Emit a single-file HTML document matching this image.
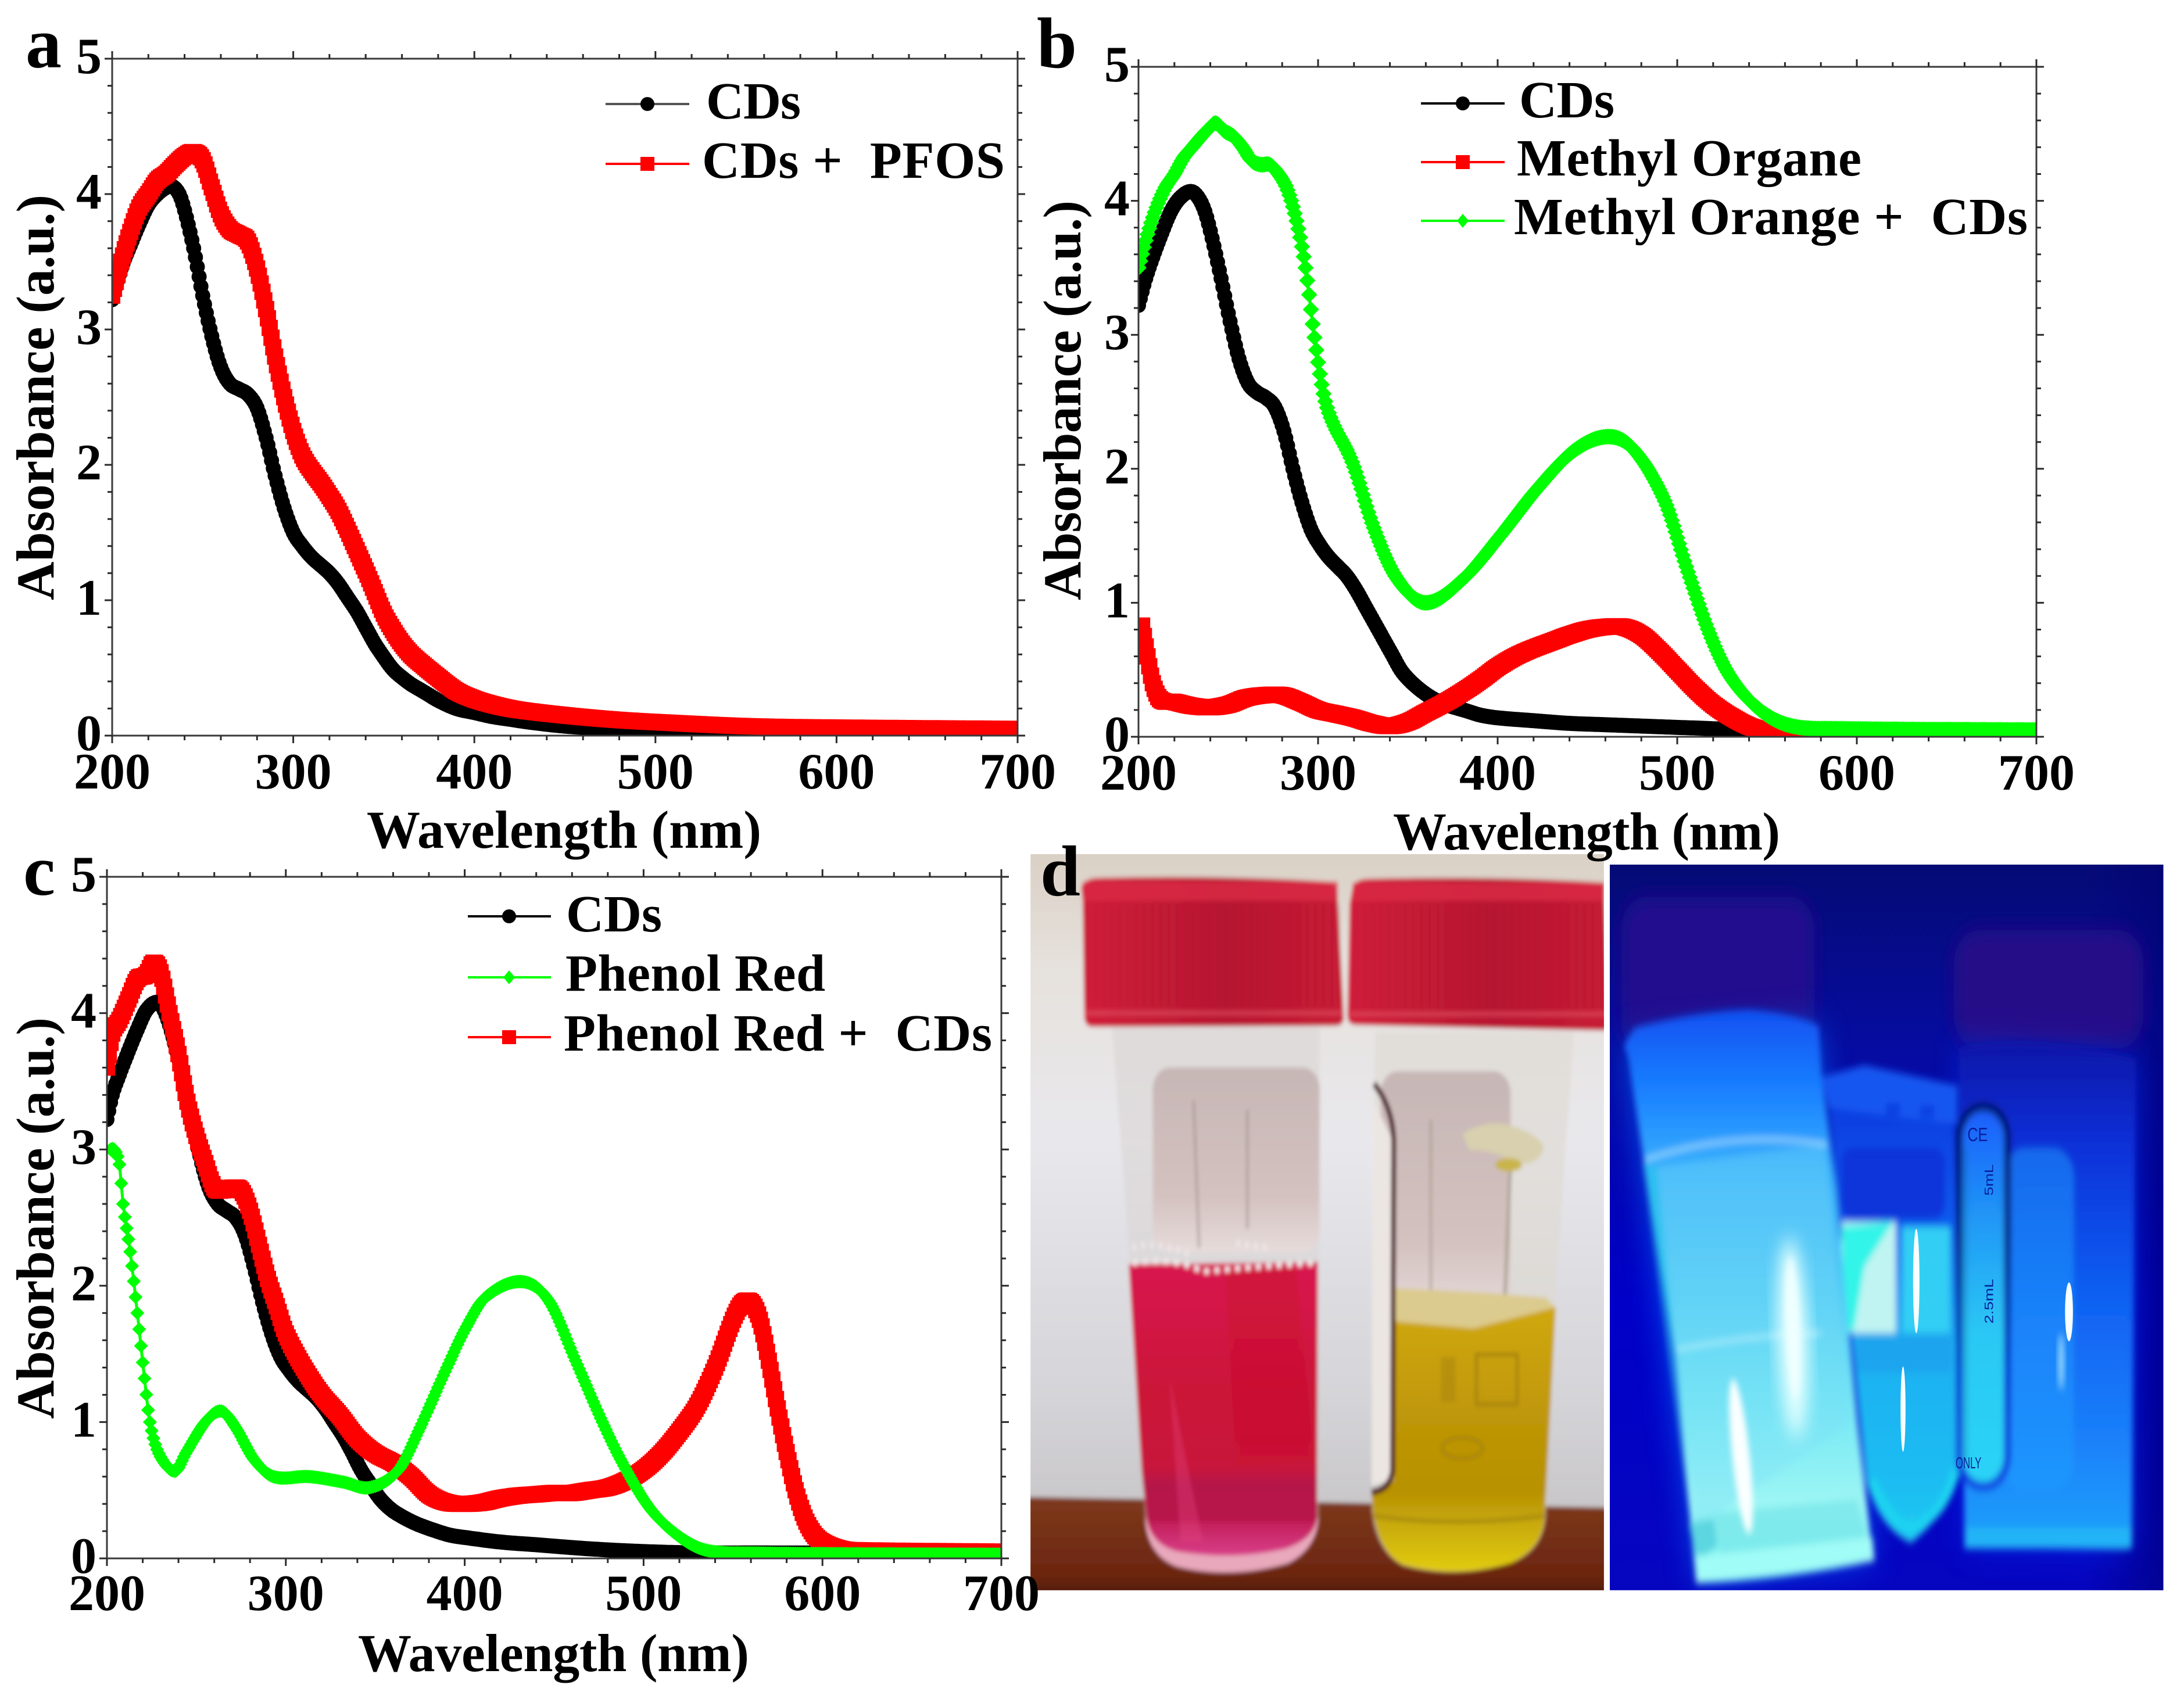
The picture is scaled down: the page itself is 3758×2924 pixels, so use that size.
<!DOCTYPE html>
<html lang="en">
<head>
<meta charset="utf-8">
<title>Absorbance spectra of carbon dots with dyes</title>
<style>
html,body{margin:0;padding:0;background:#fff;width:3758px;height:2924px;overflow:hidden}
svg{display:block}
text{font-family:"Liberation Serif","DejaVu Serif",serif;font-weight:bold;fill:#000;white-space:pre}
.tick{font-size:88px}
.title{font-size:92px}
.leg{font-size:90px}
.letter{font-size:124px}
.ptxt{font-family:"Liberation Sans",sans-serif;font-weight:normal;font-size:34px;fill:#06209a}
</style>
</head>
<body>
<svg id="figure" xmlns="http://www.w3.org/2000/svg" width="3758" height="2924" viewBox="0 0 3758 2924">
<defs>
  <filter id="soft1" x="-5%" y="-5%" width="110%" height="110%"><feGaussianBlur stdDeviation="5"/></filter>
  <filter id="softb" x="-60%" y="-20%" width="220%" height="140%"><feGaussianBlur stdDeviation="8"/></filter>
  <filter id="soft2" x="-30%" y="-30%" width="160%" height="160%"><feGaussianBlur stdDeviation="22"/></filter>
  <filter id="soft3" x="-40%" y="-40%" width="180%" height="180%"><feGaussianBlur stdDeviation="40"/></filter>
  <linearGradient id="wall" x1="0" y1="0" x2="0" y2="1"><stop offset="0" stop-color="#d8cec2"/><stop offset=".18" stop-color="#e6e1dc"/><stop offset=".45" stop-color="#e8e8ec"/><stop offset=".8" stop-color="#d6d6da"/><stop offset="1" stop-color="#c8c6c8"/></linearGradient>
  <linearGradient id="table" x1="0" y1="0" x2="0" y2="1"><stop offset="0" stop-color="#7e3a1c"/><stop offset=".7" stop-color="#6c2610"/><stop offset="1" stop-color="#3f1409"/></linearGradient>
  <linearGradient id="cap" x1="0" y1="0" x2="1" y2="0"><stop offset="0" stop-color="#d21f3c"/><stop offset=".55" stop-color="#b81730"/><stop offset="1" stop-color="#c81b36"/></linearGradient>
  <linearGradient id="pinkliq" x1="0" y1="0" x2="0" y2="1"><stop offset="0" stop-color="#d81650"/><stop offset=".45" stop-color="#cb1238"/><stop offset=".7" stop-color="#c8143c"/><stop offset=".76" stop-color="#b5134a"/><stop offset=".88" stop-color="#b8144c"/><stop offset=".89" stop-color="#c4205c"/><stop offset="1" stop-color="#d8408a"/></linearGradient>
  <linearGradient id="yelliq" x1="0" y1="0" x2="0" y2="1"><stop offset="0" stop-color="#d0a80c"/><stop offset=".5" stop-color="#bc9406"/><stop offset=".7" stop-color="#b89206"/><stop offset=".85" stop-color="#ccb008"/><stop offset="1" stop-color="#e2cc10"/></linearGradient>
  <linearGradient id="lab1" x1="0" y1="0" x2="0" y2="1"><stop offset="0" stop-color="#c6b6b5"/><stop offset=".7" stop-color="#d4c2c0"/><stop offset="1" stop-color="#e6dcdb"/></linearGradient>
  <linearGradient id="uvbg" x1="0" y1="0" x2="0" y2="1"><stop offset="0" stop-color="#050b74"/><stop offset=".25" stop-color="#060ca0"/><stop offset=".6" stop-color="#0000c8"/><stop offset="1" stop-color="#0606c0"/></linearGradient>
  <linearGradient id="uvside" x1="0" y1="0" x2="1" y2="0"><stop offset=".85" stop-color="#000080" stop-opacity="0"/><stop offset="1" stop-color="#000070" stop-opacity=".55"/></linearGradient>
  <linearGradient id="uvbig" x1="0" y1="0" x2="0" y2="1"><stop offset="0" stop-color="#1050f2"/><stop offset=".14" stop-color="#1a80ff"/><stop offset=".28" stop-color="#38b0fc"/><stop offset=".5" stop-color="#52ccf6"/><stop offset=".68" stop-color="#72e6f4"/><stop offset=".86" stop-color="#9cf6f4"/><stop offset="1" stop-color="#7cf8f4"/></linearGradient>
  <linearGradient id="uvmid" x1="0" y1="0" x2="0" y2="1"><stop offset="0" stop-color="#0c3ce0"/><stop offset=".25" stop-color="#0f58ee"/><stop offset=".55" stop-color="#1eb0f2"/><stop offset=".85" stop-color="#1cbcf2"/><stop offset="1" stop-color="#22c8f0"/></linearGradient>
  <linearGradient id="uvright" x1="0" y1="0" x2="0" y2="1"><stop offset="0" stop-color="#0a16a8"/><stop offset=".2" stop-color="#0a30d8"/><stop offset=".5" stop-color="#1060f2"/><stop offset=".78" stop-color="#1a80fa"/><stop offset=".96" stop-color="#1e9cfa"/><stop offset="1" stop-color="#20a8f6"/></linearGradient>
  <linearGradient id="uvlabel" x1="0" y1="0" x2="0" y2="1"><stop offset="0" stop-color="#1c5cfc"/><stop offset=".3" stop-color="#2098f6"/><stop offset=".6" stop-color="#2cc8f4"/><stop offset="1" stop-color="#2cd4f6"/></linearGradient>
  <linearGradient id="uvlabelstroke" x1="0" y1="0" x2="0" y2="1"><stop offset="0" stop-color="#060a60"/><stop offset=".35" stop-color="#06107c"/><stop offset=".7" stop-color="#0626d0"/><stop offset="1" stop-color="#0832e0"/></linearGradient>
  <pattern id="ridges" width="22" height="40" patternUnits="userSpaceOnUse"><rect width="8" height="40" fill="#8e0f22" opacity=".16"/></pattern>
  <clipPath id="clip-left-photo"><rect x="5" y="0" width="1547" height="1552"/></clipPath>
  <clipPath id="clip-right-photo"><rect x="8" y="22" width="1548" height="1530"/></clipPath>
</defs>

<rect x="0" y="0" width="3758" height="2924" fill="#ffffff"/>

<!-- LEFT PHOTO -->
<g transform="translate(1770,1470) scale(.6378,.8163)" clip-path="url(#clip-left-photo)">
  <g filter="url(#soft1)">
    <rect x="-30" y="-30" width="1620" height="1420" fill="url(#wall)"/>
    <polygon points="-30,1355 1590,1378 1590,1590 -30,1590" fill="url(#table)"/>

    <!-- pink vial -->
    <g>
      <path d="M225 365 L785 365 L782 1400 Q775 1465 700 1495 Q545 1530 400 1502 Q325 1480 315 1410 L272 860 Z" fill="#d8d4d4" opacity=".55"/>
      <rect x="335" y="450" width="450" height="390" rx="46" fill="url(#lab1)"/>
      <line x1="445" y1="520" x2="460" y2="830" stroke="#a59190" stroke-width="5"/>
      <line x1="590" y1="540" x2="590" y2="790" stroke="#a59190" stroke-width="5"/>
      <path d="M315 1400 L782 1400 Q775 1465 700 1495 Q545 1530 400 1502 Q325 1480 315 1410 Z" fill="#e9a8bc"/>
      <path d="M270 865 L780 860 L778 1300 L778 1400 Q770 1445 690 1465 Q550 1490 400 1470 Q330 1455 318 1400 L305 1300 Z" fill="url(#pinkliq)"/>
      <polygon points="530,880 720,870 770,1280 560,1290" fill="#c90f2c" opacity=".45"/>
      <polygon points="380,1100 420,1260 470,1450 410,1450" fill="#e54a82" opacity=".35"/>
      <path d="M280 862 Q400 850 470 880 Q600 870 770 862" fill="none" stroke="#f3e8ea" stroke-width="12" stroke-dasharray="14 14"/>
      <path d="M280 830 Q340 812 440 845 M560 820 L650 830" fill="none" stroke="#efe6e6" stroke-width="14" stroke-dasharray="10 14"/>
    </g>

    <!-- yellow vial -->
    <g>
      <path d="M935 375 L1470 375 L1420 950 L1395 1400 Q1385 1470 1300 1495 Q1150 1530 1010 1500 Q935 1470 925 1380 L930 800 Z" fill="#ded8d0" opacity=".6"/>
      <rect x="950" y="458" width="350" height="520" rx="46" fill="url(#lab1)"/>
      <line x1="1085" y1="560" x2="1085" y2="920" stroke="#a8988a" stroke-width="5"/>
      <line x1="1300" y1="650" x2="1285" y2="930" stroke="#a8a090" stroke-width="8"/>
      <polygon points="930,520 980,600 980,1320 925,1330" fill="#ece6e2"/>
      <polygon points="985,915 1230,925 1395,935 1420,955 1200,1000 985,985" fill="#dccb8e"/>
      <path d="M985 985 L1200 1000 L1422 955 L1395 1350 L1392 1400 Q1385 1465 1300 1495 Q1150 1528 1010 1498 Q935 1470 925 1350 L985 1320 Z" fill="url(#yelliq)"/>
      <path d="M932 484 Q988 540 985 620 L982 1300 Q975 1340 925 1345" fill="none" stroke="#4b1620" stroke-width="13"/>
      <path d="M928 1395 Q1150 1420 1392 1395" fill="none" stroke="#a88a08" stroke-width="8"/>
      <path d="M1170 590 Q1230 560 1290 570 Q1380 590 1390 620 Q1370 660 1320 650 Q1240 620 1190 625 Z" fill="#d8d0ae"/>
      <ellipse cx="1295" cy="655" rx="36" ry="14" fill="#c9b548"/>
      <rect x="1112" y="1060" width="40" height="95" fill="#a8840c" opacity=".5"/>
      <rect x="1208" y="1055" width="110" height="105" fill="none" stroke="#a8840c" stroke-width="8"/>
      <ellipse cx="1170" cy="1252" rx="55" ry="22" fill="none" stroke="#a8840c" stroke-width="7"/>
    </g>

    <!-- caps -->
    <path d="M142 70 Q150 50 190 50 Q500 44 810 58 Q832 60 834 100 L850 345 Q850 360 830 362 L170 364 Q150 362 150 340 L146 100 Z" fill="url(#cap)"/>
    <rect x="150" y="105" width="690" height="215" fill="url(#ridges)"/>
    <rect x="146" y="58" width="688" height="40" fill="#da2a46" opacity=".8"/>
    <rect x="150" y="330" width="698" height="10" fill="#e05064" opacity=".6"/>
    <path d="M874 70 Q880 52 920 52 Q1250 46 1552 60 L1565 372 L880 360 Q860 358 860 340 L866 105 Z" fill="url(#cap)"/>
    <rect x="866" y="105" width="690" height="220" fill="url(#ridges)"/>
    <rect x="874" y="60" width="680" height="38" fill="#da2a46" opacity=".8"/>
    <rect x="868" y="332" width="690" height="10" fill="#e05064" opacity=".6"/>
  </g>
</g>

<!-- RIGHT PHOTO -->
<g transform="translate(2765,1470) scale(.6154,.8163)" clip-path="url(#clip-right-photo)">
  <rect x="8" y="22" width="1548" height="1530" fill="url(#uvbg)"/>
  <rect x="8" y="22" width="1548" height="1530" fill="url(#uvside)"/>
  <rect x="40" y="90" width="540" height="330" rx="70" fill="#22108e" filter="url(#soft2)"/>
  <rect x="970" y="160" width="530" height="250" rx="70" fill="#260a88" filter="url(#soft2)"/>
  <polygon points="48,400 590,360 745,1490 250,1535" fill="#1070ff" opacity=".6" filter="url(#soft3)"/>
  <polygon points="990,400 1480,430 1465,1465 1000,1460" fill="#0a40ff" opacity=".45" filter="url(#soft3)"/>

  <g filter="url(#softb)">
    <!-- right vial -->
    <g>
      <path d="M985 410 Q1200 380 1478 432 L1468 1450 Q1468 1465 1450 1466 L1020 1462 Q1000 1460 1000 1440 Z" fill="url(#uvright)"/>
      <rect x="1110" y="620" width="195" height="720" rx="60" fill="#22a0ff" opacity=".5"/>
      <rect x="1000" y="1420" width="468" height="44" fill="#24b4f6"/>
    </g>
    <!-- middle tube -->
    <g>
      <path d="M622 530 L972 570 L985 1280 Q970 1380 850 1452 Q760 1420 725 1320 L650 760 Z" fill="url(#uvmid)"/>
      <rect x="655" y="620" width="290" height="150" rx="30" fill="#0a2ed4" opacity=".8"/>
      <polygon points="600,470 720,445 980,488 980,570 620,535" fill="#1656f0"/>
      <rect x="780" y="525" width="40" height="25" fill="#0d3fe0"/>
      <rect x="875" y="530" width="40" height="25" fill="#0d3fe0"/>
      <rect x="825" y="785" width="135" height="225" fill="#30cef4"/>
      <rect x="655" y="775" width="153" height="235" fill="#c0f4f2"/>
      <polygon points="655,785 800,775 720,870 690,1005 670,1005" fill="#30f4e8"/>
      <rect x="695" y="1012" width="270" height="80" fill="#1aa4ee"/>
      <path d="M740 1320 Q790 1410 850 1420 Q940 1400 975 1300" fill="none" stroke="#1cd4f0" stroke-width="24"/>
    </g>
    <!-- big vial -->
    <g>
      <path d="M48 402 L78 366 Q260 330 400 328 Q520 335 592 362 L600 470 L640 700 L700 1200 L745 1490 Q500 1530 250 1537 L190 1050 L105 650 L62 435 Z" fill="url(#uvbig)"/>
      <path d="M140 660 L610 610 L680 1200 L250 1420 Z" fill="#7cdcf6" opacity=".35"/>
      <path d="M100 650 L140 660 L235 1420 L250 1500 Z" fill="#22cce6" opacity=".5"/>
      <path d="M105 645 Q350 580 615 612" fill="none" stroke="#a8e8ff" stroke-width="6"/>
      <path d="M195 1045 Q380 1015 600 1010" fill="none" stroke="#c0f8ff" stroke-width="5"/>
      <polygon points="230,1410 300,1400 310,1460 250,1490" fill="#5cd6e0"/>
      <polygon points="300,1390 700,1360 725,1440 320,1485" fill="#76e4e8" opacity=".7"/>
      <polygon points="245,1480 742,1440 748,1490 250,1537" fill="#a0fcf6"/>
    </g>
    <!-- printed label -->
    <rect x="985" y="533" width="135" height="800" rx="65" fill="url(#uvlabel)" stroke="url(#uvlabelstroke)" stroke-width="18"/>
    <line x1="1003" y1="620" x2="1003" y2="1280" stroke="#0e5ba0" stroke-width="4"/>
  </g>
  <ellipse cx="520" cy="1020" rx="42" ry="210" fill="#e2ffff" transform="rotate(-3 520 1020)" filter="url(#soft2)"/>
  <ellipse cx="520" cy="1000" rx="18" ry="150" fill="#f0ffff" transform="rotate(-3 520 1000)" filter="url(#softb)"/>
  <ellipse cx="375" cy="1270" rx="24" ry="165" fill="#fbffff" transform="rotate(-8 375 1270)" filter="url(#softb)"/>
  <ellipse cx="865" cy="900" rx="9" ry="110" fill="#f8ffff"/>
  <ellipse cx="828" cy="1170" rx="7" ry="90" fill="#f8ffff"/>
  <ellipse cx="1292" cy="965" rx="11" ry="62" fill="#f8ffff"/>
  <ellipse cx="1270" cy="1070" rx="7" ry="60" fill="#a8e4ff" filter="url(#softb)"/>
  <text class="ptxt" transform="translate(1008,605) scale(1.2,1.2)">CE</text>
  <text class="ptxt" transform="translate(1080,720) rotate(-90)">5mL</text>
  <text class="ptxt" transform="translate(1080,990) rotate(-90)">2.5mL</text>
  <text class="ptxt" transform="translate(975,1295) scale(.8,1)">ONLY</text>
</g>

<!-- PANEL TEXT -->
<text class="letter" x="44" y="116">a</text>
<text class="letter" x="1784" y="116">b</text>
<text class="letter" x="40" y="1540">c</text>
<text class="letter" x="1790" y="1541">d</text>

<text class="title" x="631" y="1459" textLength="679" lengthAdjust="spacing">Wavelength (nm)</text>
<text class="title" x="2397" y="1462" textLength="666" lengthAdjust="spacing">Wavelength (nm)</text>
<text class="title" x="616" y="2876" textLength="673" lengthAdjust="spacing">Wavelength (nm)</text>

<text class="title" transform="translate(92,1033) rotate(-90)" textLength="698" lengthAdjust="spacing">Absorbance (a.u.)</text>
<text class="title" transform="translate(1859,1033) rotate(-90)" textLength="688" lengthAdjust="spacing">Absorbance (a.u.)</text>
<text class="title" transform="translate(92,2442) rotate(-90)" textLength="691" lengthAdjust="spacing">Absorbance (a.u.)</text>

<g id="plots"></g>

<!-- LEGENDS -->
<g>
  <g>
    <line x1="1042" y1="179" x2="1186" y2="179" stroke="#555" stroke-width="4"/>
    <circle cx="1114" cy="179" r="12" fill="#000"/>
    <text class="leg" x="1215" y="204" textLength="163">CDs</text>
  </g>
  <g>
    <line x1="1042" y1="282" x2="1186" y2="282" stroke="#f00" stroke-width="4"/>
    <rect x="1102" y="270" width="24" height="24" fill="#f00"/>
    <text class="leg" x="1208" y="306" textLength="521" lengthAdjust="spacing">CDs +  PFOS</text>
  </g>
</g>
<g>
  <g>
    <line x1="2445" y1="178" x2="2589" y2="178" stroke="#000" stroke-width="4"/>
    <circle cx="2517" cy="178" r="12" fill="#000"/>
    <text class="leg" x="2614" y="202" textLength="164">CDs</text>
  </g>
  <g>
    <line x1="2445" y1="279" x2="2589" y2="279" stroke="#f00" stroke-width="4"/>
    <rect x="2505" y="267" width="24" height="24" fill="#f00"/>
    <text class="leg" x="2610" y="302" textLength="593" lengthAdjust="spacing">Methyl Organe</text>
  </g>
  <g>
    <line x1="2445" y1="380" x2="2589" y2="380" stroke="#0f0" stroke-width="4"/>
    <polygon points="2517,368 2527,380 2517,392 2507,380" fill="#0f0"/>
    <text class="leg" x="2605" y="403" textLength="884" lengthAdjust="spacing">Methyl Orange +  CDs</text>
  </g>
</g>
<g>
  <g>
    <line x1="805" y1="1577" x2="948" y2="1577" stroke="#000" stroke-width="4"/>
    <circle cx="876" cy="1577" r="12" fill="#000"/>
    <text class="leg" x="974" y="1603" textLength="165">CDs</text>
  </g>
  <g>
    <line x1="805" y1="1682" x2="948" y2="1682" stroke="#0f0" stroke-width="4"/>
    <polygon points="876,1670 886,1682 876,1694 866,1682" fill="#0f0"/>
    <text class="leg" x="973" y="1705" textLength="447" lengthAdjust="spacing">Phenol Red</text>
  </g>
  <g>
    <line x1="805" y1="1785" x2="948" y2="1785" stroke="#f00" stroke-width="4"/>
    <rect x="864" y="1773" width="24" height="24" fill="#f00"/>
    <text class="leg" x="970" y="1808" textLength="737" lengthAdjust="spacing">Phenol Red +  CDs</text>
  </g>
</g>

<script>
// ---- tick labels ----
const xTickValues = [200, 300, 400, 500, 600, 700];
const yTickValues = [0, 1, 2, 3, 4, 5];

// ---- panel a: CDs ----
const aCdsW = [200,205,210,215,220,225,230,233,237,240,245,250,255,260,265,270,275,280,285,290,295,300,305,310,315,320,325,330,335,340,345,350,355,360,365,370,375,380,390,400,410,420,430,450,475,500,530,555,580,700];
const aCdsA = [3.22,3.45,3.62,3.78,3.92,4.0,4.05,4.06,4.0,3.88,3.6,3.25,2.95,2.72,2.6,2.56,2.52,2.42,2.2,1.92,1.68,1.5,1.4,1.32,1.26,1.2,1.12,1.02,.92,.8,.68,.58,.49,.43,.38,.34,.3,.26,.2,.17,.14,.12,.1,.07,.05,.03,.01,-.02,-.04,-.05];
// ---- panel a: CDs + PFOS ----
const aPfosW = [200,205,210,215,220,225,230,235,240,245,250,255,260,265,270,275,280,285,290,295,300,305,310,315,320,325,330,335,340,345,350,355,360,365,370,380,390,400,410,420,430,450,475,500,550,600,700];
const aPfosA = [3.25,3.5,3.72,3.9,4.0,4.1,4.15,4.22,4.28,4.31,4.25,4.05,3.85,3.74,3.7,3.65,3.45,3.15,2.8,2.5,2.25,2.07,1.96,1.87,1.77,1.66,1.52,1.37,1.22,1.06,.9,.78,.68,.6,.54,.43,.33,.27,.23,.2,.18,.15,.12,.1,.07,.06,.05];

// ---- panel b: CDs ----
const bCdsW = [200,204,208,213,218,223,229,233,237,241,246,251,256,261,266,271,276,281,286,291,296,301,306,311,316,321,326,331,336,341,346,351,356,361,366,371,381,391,401,420,440,460,480,500,520,530,540,548,560,700];
const bCdsA = [3.22,3.42,3.58,3.76,3.92,4.02,4.07,4.03,3.92,3.72,3.42,3.1,2.82,2.64,2.57,2.53,2.46,2.28,2.0,1.75,1.55,1.43,1.34,1.27,1.2,1.1,.98,.86,.74,.62,.5,.42,.36,.31,.27,.24,.2,.16,.14,.12,.1,.09,.08,.07,.06,.05,.02,-.04,-.1,-.1];
// ---- panel b: Methyl Orange ----
const bMoW = [202,205,208,212,220,230,240,250,260,270,280,290,300,310,320,330,340,350,360,370,380,390,400,410,420,430,440,450,460,470,480,490,500,510,520,530,540,550,560,570,700];
const bMoA = [.83,.6,.4,.28,.26,.23,.22,.24,.29,.31,.31,.26,.2,.17,.14,.1,.08,.11,.18,.25,.33,.42,.52,.6,.66,.71,.76,.8,.82,.82,.76,.64,.5,.36,.24,.15,.08,.04,.01,0,0];
// ---- panel b: Methyl Orange + CDs ----
const bMixW = [200,205,210,215,220,225,230,235,240,243,248,253,258,263,268,273,278,283,288,293,298,303,308,319,331,344,360,381,402,422,443,462,476,493,505,518,530,547,564,589,700];
const bMixA = [3.5,3.75,3.95,4.1,4.2,4.32,4.4,4.48,4.55,4.58,4.52,4.48,4.4,4.3,4.27,4.27,4.2,4.08,3.85,3.5,2.98,2.56,2.35,2.05,1.56,1.18,1.0,1.18,1.51,1.85,2.14,2.24,2.14,1.76,1.27,.77,.44,.19,.08,.06,.05];

// ---- panel c: CDs ----
const cCdsW = [200,203,207,212,217,222,228,232,237,242,247,252,257,262,267,272,277,282,287,292,297,302,307,312,317,322,327,332,337,342,347,352,357,362,372,382,392,402,420,440,470,500,530,560,600,700];
const cCdsA = [3.22,3.4,3.55,3.72,3.88,4.02,4.08,4.02,3.82,3.55,3.25,2.95,2.72,2.6,2.55,2.5,2.38,2.15,1.88,1.65,1.48,1.38,1.3,1.24,1.18,1.1,1.0,.9,.78,.65,.55,.45,.38,.33,.26,.21,.17,.15,.12,.1,.07,.05,.04,.04,.04,.05];
// ---- panel c: Phenol Red + CDs ----
const cMixW = [200,203,207,212,217,222,226,230,235,240,245,250,255,260,265,270,275,280,285,290,295,300,310,320,330,340,350,360,370,380,390,400,410,420,430,440,450,460,470,480,490,500,510,520,530,540,550,555,560,565,570,575,580,585,590,595,600,610,620,700];
const cMixA = [3.6,3.85,3.95,4.1,4.25,4.28,4.37,4.3,4.0,3.7,3.35,3.1,2.9,2.72,2.7,2.72,2.7,2.55,2.3,2.05,1.85,1.65,1.4,1.2,1.05,.88,.77,.7,.6,.47,.41,.4,.41,.44,.46,.47,.48,.48,.5,.52,.57,.65,.77,.93,1.12,1.4,1.75,1.87,1.88,1.75,1.45,1.1,.78,.5,.3,.18,.12,.07,.06,.05];
// ---- panel c: Phenol Red ----
const cRedW = [202,204,207,209,213,217,221,224,229,238,244,255,264,272,282,293,313,332,347,363,374,389,401,412,432,447,462,477,489,504,520,535,560,700];
const cRedA = [3.0,3.0,2.89,2.6,2.25,1.8,1.32,1.0,.77,.64,.77,1.0,1.08,.96,.73,.6,.6,.56,.52,.65,.93,1.37,1.7,1.92,2.03,1.89,1.45,1.0,.68,.36,.16,.06,.04,.03];

const BLACK = '#000000', RED = '#ff0000', GREEN = '#00ff00';
const panels = [
  {id:'a', left:193, right:1751, top:101, bottom:1266, yLabelRight:175, yLabelDy:25, xLabelDy:91,
   series:[{name:'cds', w:aCdsW, a:aCdsA, color:BLACK, shape:'circle', size:13},
           {name:'cds-pfos', w:aPfosW, a:aPfosA, color:RED, shape:'square', size:14}]},
  {id:'b', left:1959, right:3504, top:115, bottom:1268, yLabelRight:1944, yLabelDy:25, xLabelDy:91,
   series:[{name:'cds', w:bCdsW, a:bCdsA, color:BLACK, shape:'circle', size:13},
           {name:'methyl-orange', w:bMoW, a:bMoA, color:RED, shape:'square', size:14},
           {name:'methyl-orange-cds', w:bMixW, a:bMixA, color:GREEN, shape:'diamond', size:14}]},
  {id:'c', left:184, right:1723, top:1509, bottom:2682, yLabelRight:166, yLabelDy:25, xLabelDy:89,
   series:[{name:'cds', w:cCdsW, a:cCdsA, color:BLACK, shape:'circle', size:13},
           {name:'phenol-red-cds', w:cMixW, a:cMixA, color:RED, shape:'square', size:14},
           {name:'phenol-red', w:cRedW, a:cRedA, color:GREEN, shape:'diamond', size:12}]}
];

const NS = 'http://www.w3.org/2000/svg';
const plots = document.getElementById('plots');
function mk(tag, attrs, parent){
  const el = document.createElementNS(NS, tag);
  for (const k in attrs) el.setAttribute(k, attrs[k]);
  parent.appendChild(el);
  return el;
}
// smooth curve through the hand-read points
function curveAt(xs, ys, w){
  let i = 0;
  while (i < xs.length - 2 && w > xs[i + 1]) i++;
  const h = xs[i + 1] - xs[i], t = (w - xs[i]) / h;
  const slope = j => {
    const a = Math.max(j - 1, 0), b = Math.min(j + 1, xs.length - 1);
    return (ys[b] - ys[a]) / (xs[b] - xs[a]);
  };
  const m0 = slope(i), m1 = slope(i + 1), t2 = t * t, t3 = t2 * t;
  return (2*t3 - 3*t2 + 1) * ys[i] + (t3 - 2*t2 + t) * h * m0 + (-2*t3 + 3*t2) * ys[i + 1] + (t3 - t2) * h * m1;
}
function marker(shape, x, y, s){
  const X = x.toFixed(1), Y = y.toFixed(1);
  if (shape === 'circle') {
    return 'M' + (x - s).toFixed(1) + ' ' + Y + 'a' + s + ' ' + s + ' 0 1 0 ' + (2*s) + ' 0a' + s + ' ' + s + ' 0 1 0 ' + (-2*s) + ' 0z';
  }
  if (shape === 'square') {
    return 'M' + (x - s).toFixed(1) + ' ' + (y - s).toFixed(1) + 'h' + (2*s) + 'v' + (2*s) + 'h' + (-2*s) + 'z';
  }
  return 'M' + X + ' ' + (y - s).toFixed(1) + 'l' + s + ' ' + s + 'l' + (-s) + ' ' + s + 'l' + (-s) + ' ' + (-s) + 'z';
}

panels.forEach(p => {
  const sx = w => p.left + (w - 200) / 500 * (p.right - p.left);
  const sy = v => p.bottom - v / 5 * (p.bottom - p.top);

  const g = mk('g', {}, plots);
  
  

  const cp = mk('clipPath', {id:'plot-clip-' + p.id}, g);
  mk('rect', {x:p.left, y:p.top, width:p.right - p.left, height:p.bottom - p.top}, cp);

  // series
  const sg = mk('g', {'clip-path':'url(#plot-clip-' + p.id + ')'}, g);
  
  
  p.series.forEach(s => {
    let line = '', marks = '';
    const first = s.w[0], last = s.w[s.w.length - 1];
    for (let w = first; w <= last; w += 1) {
      const x = sx(w), y = sy(curveAt(s.w, s.a, w));
      line += (line ? 'L' : 'M') + x.toFixed(1) + ' ' + y.toFixed(1);
      marks += marker(s.shape, x, y, s.size);
    }
    const ln = mk('path', {d:line, fill:'none', stroke:s.color, 'stroke-width':5}, sg);
    
    
    const mp = mk('path', {d:marks, fill:s.color}, sg);
    
    
  });

  // frame
  const frame = mk('rect', {x:p.left, y:p.top, width:p.right - p.left, height:p.bottom - p.top, fill:'none', stroke:'#3a3a3a', 'stroke-width':3}, g);
  
  

  // ticks
  let tickD = '';
  for (let w = 200; w <= 700; w += 20) {
    const len = (w % 100 === 0) ? 13 : 8, x = sx(w).toFixed(1);
    tickD += 'M' + x + ' ' + p.top + 'v' + (-len) + 'M' + x + ' ' + p.bottom + 'v' + len;
  }
  for (let k = 0; k <= 25; k++) {
    const len = (k % 5 === 0) ? 13 : 8, y = sy(k / 5).toFixed(1);
    tickD += 'M' + p.left + ' ' + y + 'h' + (-len) + 'M' + p.right + ' ' + y + 'h' + len;
  }
  const ticks = mk('path', {d:tickD, fill:'none', stroke:'#2a2a2a', 'stroke-width':3}, g);
  
  

  // tick labels
  xTickValues.forEach(v => {
    const t = mk('text', {class:'tick', x:sx(v), y:p.bottom + p.xLabelDy, 'text-anchor':'middle'}, g);
    t.textContent = v;
    
    
  });
  yTickValues.forEach(v => {
    const t = mk('text', {class:'tick', x:p.yLabelRight, y:sy(v) + p.yLabelDy, 'text-anchor':'end'}, g);
    t.textContent = v;
    
    
  });
});
</script>
</svg>
</body>
</html>
